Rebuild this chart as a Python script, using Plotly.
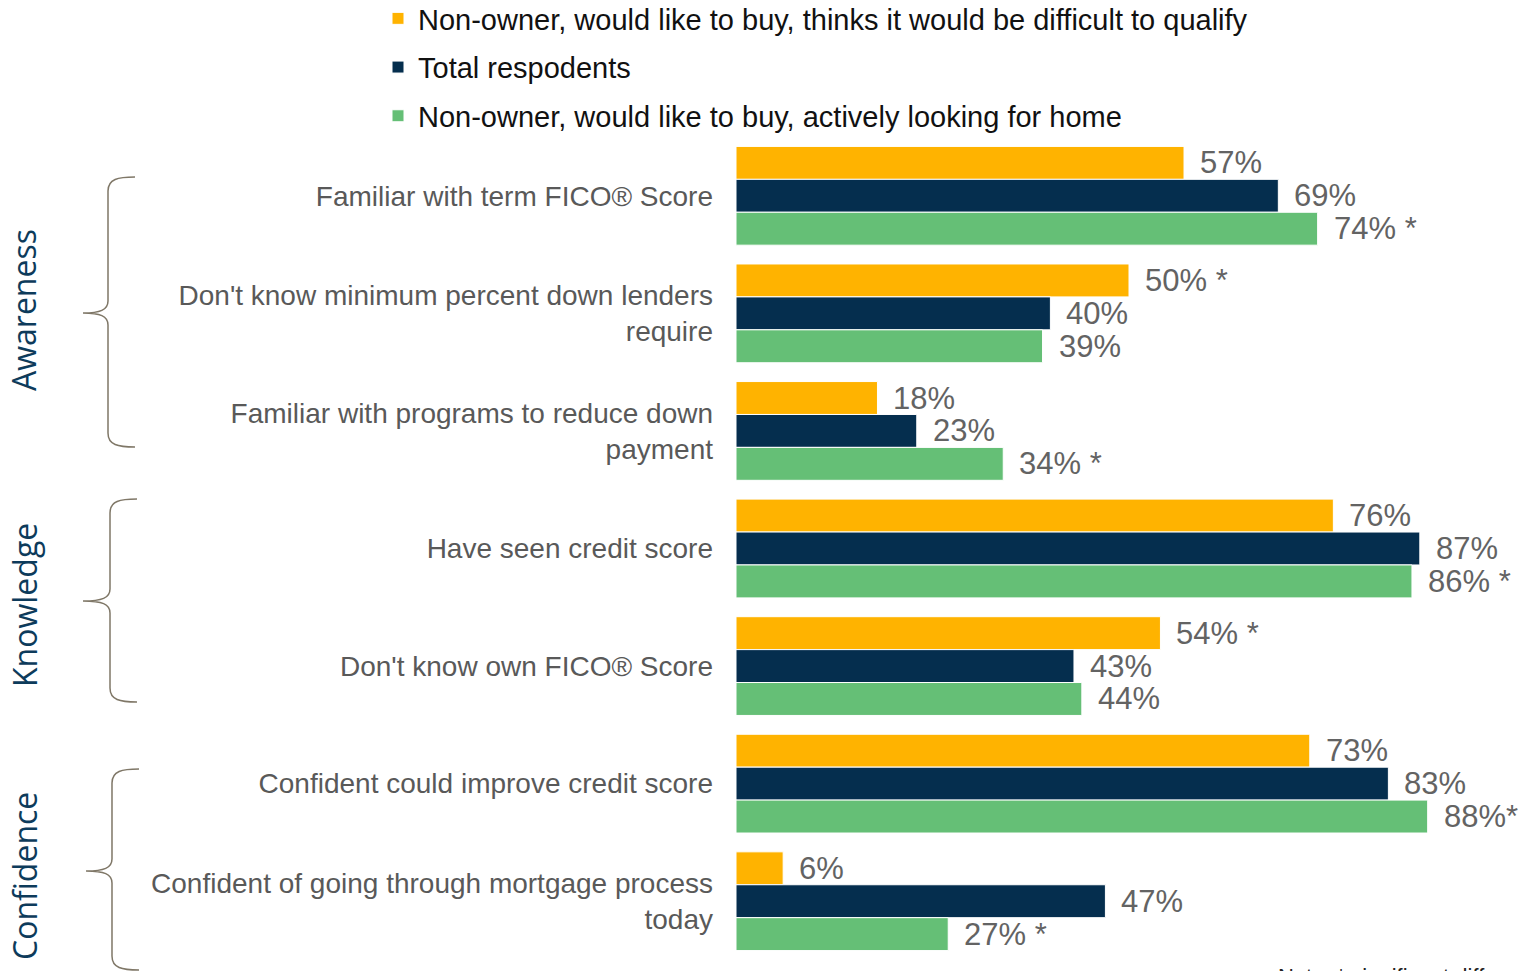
import plotly.graph_objects as go

categories = [
    "Familiar with term FICO® Score",
    "Don't know minimum percent down lenders<br>require",
    "Familiar with programs to reduce down<br>payment",
    "Have seen credit score",
    "Don't know own FICO® Score",
    "Confident could improve credit score",
    "Confident of going through mortgage process<br>today",
]

series_names = [
    "Non-owner, would like to buy, thinks it would be difficult to qualify",
    "Total respodents",
    "Non-owner, would like to buy, actively looking for home",
]
difficult = [57, 50, 18, 76, 54, 73, 6]
total = [69, 40, 23, 87, 43, 83, 47]
looking = [74, 39, 34, 86, 44, 88, 27]

# significance markers shown after the value labels
difficult_sig = ["", " *", "", "", " *", "", ""]
total_sig = ["", "", "", "", "", "", ""]
looking_sig = [" *", "", " *", " *", "", "*", " *"]

groups = ["Awareness", "Knowledge", "Confidence"]

colors = ["#FFB300", "#052E4E", "#65BF76"]

W, H = 1519, 971
# plot area in pixels (margins are zero, the axis domains place the bars)
PL, PR, PT, PB = 736, 1519, 137, 960
plot_w = PR - PL
plot_h = PB - PT
px_per_pct = 7.86


def px(x):
    return x / W


def py(y):
    return 1 - y / H


fig = go.Figure()
all_vals = [difficult, total, looking]
all_sig = [difficult_sig, total_sig, looking_sig]
for i, (name, vals) in enumerate(zip(series_names, all_vals)):
    fig.add_trace(go.Bar(
        y=categories,
        x=vals,
        name=name,
        orientation='h',
        marker_color=colors[i],
        marker_line=dict(color='white', width=1),
        legendgroup=str(i),
        hoverinfo='x+y',
    ))

bar_h = 0.84 / 3 * plot_h / len(categories)
annotations = []
for i, (vals, sig) in enumerate(zip(all_vals, all_sig)):
    shift = bar_h * (1 - i)
    for cat, v, s in zip(categories, vals, sig):
        annotations.append(dict(
            x=v, y=cat, xref='x', yref='y',
            text=f"{v}%{s}",
            showarrow=False,
            xanchor='left', yanchor='middle',
            xshift=14, yshift=shift,
            font=dict(family="Liberation Sans, Arial", size=31, color="#636363"),
        ))

group_y = [310, 605, 876]
for g, gy in zip(groups, group_y):
    annotations.append(dict(
        x=px(24), y=py(gy), xref='paper', yref='paper',
        text=g, textangle=-90, showarrow=False,
        xanchor='center', yanchor='middle',
        font=dict(family="Open Sans", size=32, color="#0D3B5B"),
    ))

annotations.append(dict(
    x=px(1276), y=py(962), xref='paper', yref='paper',
    text="Note: * significant difference", showarrow=False,
    xanchor='left', yanchor='top',
    font=dict(family="Liberation Sans, Arial", size=22, color="#222222"),
))

# curly braces next to the group titles: (top, middle, bottom, spine x, tip x)
braces = [(177, 313, 447, 108, 83), (499, 601, 702, 110, 83), (769, 871, 970, 112, 86)]
shapes = []
for top, mid, bot, sx, tx in braces:
    ex = sx + 27
    pts = [
        ("M", [(ex, top)]),
        ("C", [(sx + 10, top), (sx, top + 2), (sx, top + 14)]),
        ("L", [(sx, mid - 12)]),
        ("C", [(sx, mid - 3), (sx - 8, mid), (tx, mid)]),
        ("C", [(sx - 8, mid), (sx, mid + 3), (sx, mid + 12)]),
        ("L", [(sx, bot - 14)]),
        ("C", [(sx, bot - 2), (sx + 10, bot), (ex, bot)]),
    ]
    path = ""
    for cmd, coords in pts:
        path += cmd + " ".join(f"{px(a):.5f},{py(b):.5f}" for a, b in coords) + " "
    shapes.append(dict(type='path', path=path.strip(), xref='paper', yref='paper',
                       line=dict(color='#7F7767', width=1.5)))

fig.update_layout(
    width=W, height=H,
    barmode='group',
    bargap=0.16,
    bargroupgap=0,
    plot_bgcolor='white',
    paper_bgcolor='white',
    margin=dict(l=0, r=0, t=0, b=0, autoexpand=False),
    font=dict(family="Liberation Sans, Arial", color="#595959"),
    xaxis=dict(domain=[px(PL), px(PR)], range=[0, plot_w / px_per_pct],
               showgrid=False, zeroline=False,
               showticklabels=False, showline=False, fixedrange=True),
    yaxis=dict(domain=[py(PB), py(PT)], autorange='reversed',
               showgrid=False, zeroline=False, showline=False,
               ticks='', ticklabelstandoff=22, automargin=False,
               tickfont=dict(family="Liberation Sans, Arial", size=28, color="#595959")),
    showlegend=True,
    legend=dict(
        x=px(378), y=py(-7), xanchor='left', yanchor='top',
        orientation='v', tracegroupgap=8,
        font=dict(family="Liberation Sans, Arial", size=29, color="#111111"),
        bgcolor='rgba(0,0,0,0)',
    ),
    annotations=annotations,
    shapes=shapes,
)

fig.write_html("out.html", config={'displayModeBar': False},
               post_script="document.body.style.margin='0';")
